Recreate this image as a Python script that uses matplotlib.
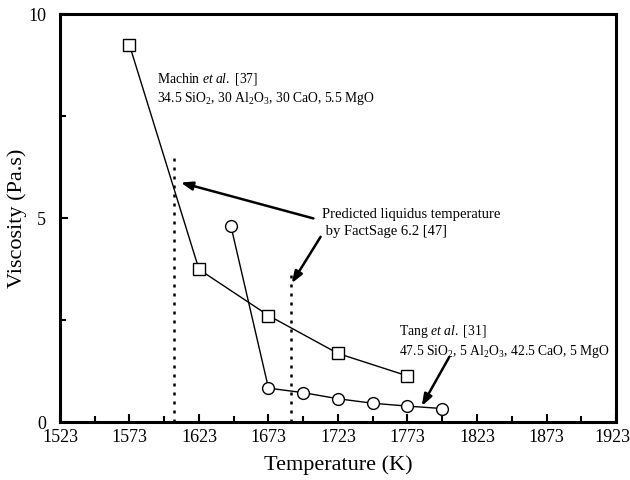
import matplotlib
matplotlib.use("Agg")
import matplotlib.pyplot as plt
from matplotlib.ticker import FixedLocator
from matplotlib.transforms import ScaledTranslation

plt.rcParams["font.family"] = ["Liberation Serif", "DejaVu Serif"]
plt.rcParams["mathtext.fontset"] = "custom"
plt.rcParams["mathtext.rm"] = "Liberation Serif"
plt.rcParams["mathtext.it"] = "Liberation Serif:italic"

# Machin et al. (squares)
machin_t = [1573, 1623, 1673, 1723, 1773]
machin_eta = [9.24, 3.74, 2.61, 1.68, 1.13]

# Tang et al. (circles)
tang_t = [1646, 1673, 1698, 1723, 1748, 1773, 1798]
tang_eta = [4.80, 0.83, 0.72, 0.57, 0.46, 0.39, 0.33]

# FactSage liquidus temperatures and the height of each marker line
liquidus_t = [1605, 1689]
liquidus_top = [6.57, 3.73]

x_major = [1523, 1573, 1623, 1673, 1723, 1773, 1823, 1873, 1923]
x_minor = [1548, 1598, 1648, 1698, 1748, 1798, 1848, 1898]
y_major = [0, 5, 10]
y_minor = [2.5, 7.5]

fig = plt.figure(figsize=(6.3, 4.8), dpi=100)
ax = fig.add_axes([0.0952, 0.1208, 0.8826, 0.85])

ax.plot(machin_t, machin_eta, color="black", lw=1.0, marker="s", ms=8,
        mfc="white", mec="black", mew=1.0, zorder=3)
ax.plot(tang_t, tang_eta, color="black", lw=1.0, marker="o", ms=8.5,
        mfc="white", mec="black", mew=1.0, zorder=3)

for t, top in zip(liquidus_t, liquidus_top):
    ax.plot([t, t], [0, top], color="black", lw=1.8,
            linestyle=(0, (1.2, 2.4)), zorder=2)

arrow = dict(arrowstyle="-|>,head_length=0.7,head_width=0.25",
             color="black", lw=1.8, shrinkA=0, shrinkB=0)

ax.text(1711.5, 4.87, "Predicted liquidus temperature\n by FactSage 6.2 [47]",
        fontsize=10.5, ha="left", va="center", linespacing=1.4)
ax.annotate("", xy=(1609.8, 5.87), xytext=(1705.3, 4.99), arrowprops=arrow)
ax.annotate("", xy=(1689.7, 3.40), xytext=(1710.5, 4.54), arrowprops=arrow)

ax.text(1593, 8.6,
        "Machin $\\it{et\\ al.}$ [37]\n"
        "34.5 SiO$_2$, 30 Al$_2$O$_3$, 30 CaO, 5.5 MgO",
        fontsize=9.8, ha="left", va="top", linespacing=1.25)

ax.text(1767, 2.42,
        "Tang $\\it{et\\ al.}$ [31]\n"
        "47.5 SiO$_2$, 5 Al$_2$O$_3$, 42.5 CaO, 5 MgO",
        fontsize=9.8, ha="left", va="top", linespacing=1.25)
ax.annotate("", xy=(1783.2, 0.39), xytext=(1803, 1.59), arrowprops=arrow)

ax.set_xlim(1523, 1923)
ax.set_ylim(0, 10)
ax.xaxis.set_major_locator(FixedLocator(x_major))
ax.xaxis.set_minor_locator(FixedLocator(x_minor))
ax.yaxis.set_major_locator(FixedLocator(y_major))
ax.yaxis.set_minor_locator(FixedLocator(y_minor))
ax.tick_params(which="both", direction="in", top=False, right=False,
               labelsize=13, width=1.5)
ax.tick_params(which="major", length=6)
ax.tick_params(which="minor", length=4)
ax.tick_params(axis="x", pad=5)
ax.tick_params(axis="y", pad=10)
for side in ax.spines.values():
    side.set_linewidth(2.2)

# nudge the last x label so it stays inside the figure
last = ax.xaxis.get_major_ticks()[-1].label1
last.set_transform(last.get_transform() +
                   ScaledTranslation(-4 / 100, 0, fig.dpi_scale_trans))

ax.set_xlabel("Temperature (K)", fontsize=16, labelpad=7)
ax.set_ylabel("Viscosity (Pa.s)", fontsize=16, labelpad=1)

fig.savefig("out.png", dpi=100)
